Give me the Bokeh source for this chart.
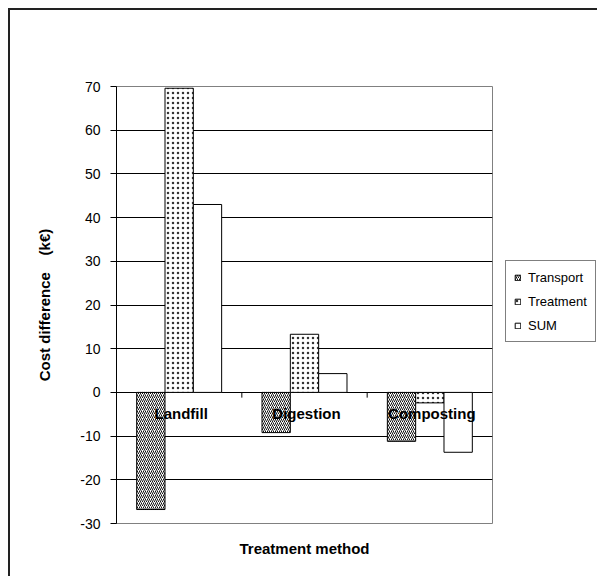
from bokeh.plotting import figure
from bokeh.layouts import row
from bokeh.models import Range1d, FixedTicker, Legend, LegendItem, ColumnDataSource, FactorRange
from bokeh.transform import dodge
from bokeh.core.properties import value
from bokeh.embed import file_html
from bokeh.resources import INLINE

categories = ["Landfill", "Digestion", "Composting"]
series = ["Transport", "Treatment", "SUM"]
transport = [-26.8, -9.2, -11.2]
treatment = [69.6, 13.3, -2.4]
sum_values = [43.0, 4.3, -13.7]
y_ticks = [-30, -20, -10, 0, 10, 20, 30, 40, 50, 60, 70]

FONT = "Liberation Sans"

src = ColumnDataSource(dict(cat=categories, Transport=transport,
                            Treatment=treatment, SUM=sum_values,
                            zero=[0] * len(categories)))

p = figure(x_range=FactorRange(*categories), y_range=Range1d(-30, 70),
           width=495, height=566, output_backend="svg", toolbar_location=None,
           min_border_left=106, min_border_right=13, min_border_top=76,
           min_border_bottom=53)

p.background_fill_color = "white"
p.border_fill_color = "white"
p.outline_line_color = "#808080"
p.outline_line_width = 1
p.xgrid.grid_line_color = None
p.ygrid.grid_line_color = "black"
p.ygrid.grid_line_width = 1
p.ygrid.ticker = FixedTicker(ticks=y_ticks)

bw = 0.226
styles = {
    "Transport": dict(hatch_pattern="right_diagonal_line", hatch_color="#111111",
                      hatch_scale=4, hatch_weight=1),
    "Treatment": dict(hatch_pattern="dot", hatch_color="#333333",
                      hatch_scale=5, hatch_weight=1),
    "SUM": dict(),
}
offsets = [-bw, 0.0, bw]
for s, off in zip(series, offsets):
    p.vbar(x=dodge("cat", off, range=p.x_range), top=s, bottom=0, width=bw,
           source=src, fill_color="white", line_color="black", line_width=1,
           **styles[s])

# category axis ticks on the zero line (between categories)
bounds = list(range(1, len(categories)))
p.segment(x0=bounds, y0=[0] * len(bounds), x1=bounds, y1=[-1.2] * len(bounds),
          line_color="black", line_width=1)

p.text(x="cat", y="zero", text="cat", source=src, text_font=value(FONT),
       text_font_style="bold", text_font_size="15px", text_align="center",
       text_baseline="middle", y_offset=21, x_offset=2, text_color="black")

yax = p.yaxis[0]
yax.ticker = FixedTicker(ticks=y_ticks)
yax.major_label_overrides = {t: str(t) for t in y_ticks}
yax.axis_line_color = "black"
yax.major_tick_out = 6
yax.major_tick_in = 0
yax.minor_tick_line_color = None
yax.major_label_text_font = FONT
yax.major_label_text_font_size = "14px"
yax.major_label_text_color = "black"
yax.major_label_standoff = 10
yax.axis_label = "Cost difference \u00a0\u00a0\u00a0(k€)"
yax.axis_label_text_font = FONT
yax.axis_label_text_font_size = "15px"
yax.axis_label_text_font_style = "bold"
yax.axis_label_text_color = "black"
yax.axis_label_standoff = 24

xax = p.xaxis[0]
xax.axis_line_color = None
xax.major_tick_line_color = None
xax.minor_tick_line_color = None
xax.major_label_text_color = None
xax.major_label_text_font_size = "1px"
xax.axis_label = "Treatment method"
xax.axis_label_text_font = FONT
xax.axis_label_text_font_size = "15px"
xax.axis_label_text_font_style = "bold"
xax.axis_label_text_color = "black"
xax.axis_label_standoff = 10

# legend panel (separate figure so the box can sit outside the plot frame).
# Its proxy bars use the same data, scaled so they sit hidden behind the
# opaque legend box.
FRAME_H = 437
LEG_BOTTOM, LEG_TOP = 195, 247   # px above frame bottom, inside the legend box
all_vals = transport + treatment + sum_values + [0]
lo, hi = min(all_vals), max(all_vals)
ppu = (LEG_TOP - LEG_BOTTOM) / (hi - lo)
y0 = lo - LEG_BOTTOM / ppu
lp = figure(width=92, height=566, output_backend="svg", toolbar_location=None,
            title=None, x_axis_type=None, y_axis_type=None,
            min_border_left=0, min_border_right=0, min_border_top=0,
            min_border_bottom=0,
            x_range=FactorRange(*categories),
            y_range=Range1d(y0, y0 + FRAME_H / ppu))
lp.outline_line_color = None
lp.grid.grid_line_color = None
lp.background_fill_color = "white"
lp.border_fill_color = "white"
legend_renderers = []
for s in series:
    r = lp.vbar(x="cat", top=s, bottom=0, width=bw, source=src,
                fill_color="white", line_color="black", line_width=1, **styles[s])
    legend_renderers.append(r)

legend = Legend(items=[LegendItem(label=s, renderers=[r])
                       for s, r in zip(series, legend_renderers)],
                location=(0, 181), border_line_color="black", border_line_width=1,
                background_fill_color="white", background_fill_alpha=1,
                label_text_font=FONT, label_text_font_size="13px",
                label_text_color="black",
                glyph_width=7, glyph_height=7, label_standoff=7, padding=8,
                spacing=8, margin=0, label_height=16)
lp.add_layout(legend)

layout = row(p, lp, spacing=0)
layout.styles = {"margin-left": "8px", "margin-top": "8px",
                 "border-left": "2px solid #222", "border-top": "2px solid #222"}

open("out.html", "w").write(file_html(layout, INLINE))
